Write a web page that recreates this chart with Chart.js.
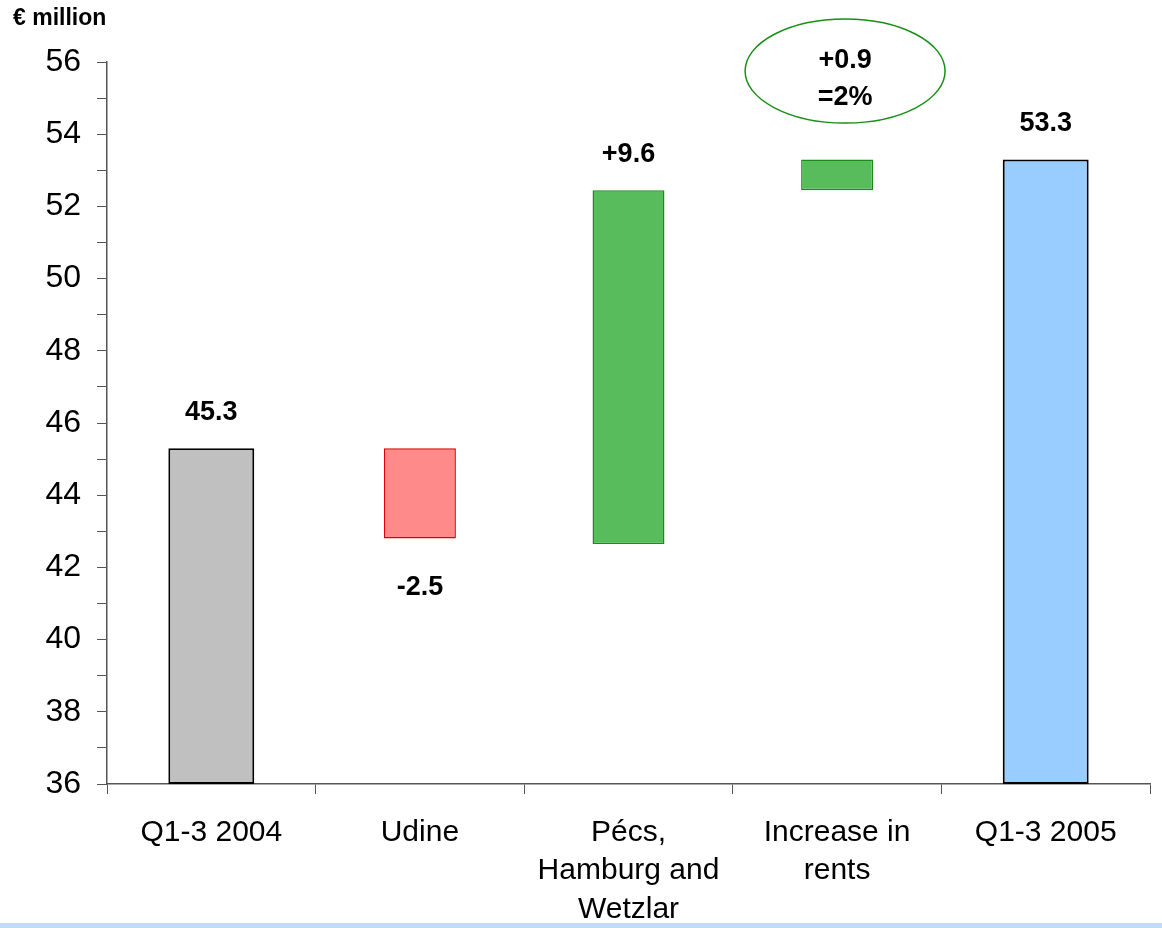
<!DOCTYPE html>
<html>

<head>
	<title>Rental income bridge</title>
	<style>
		body {
			margin: 0;
			background: #fff;
			font-family: "Liberation Sans", Arial, sans-serif;
		}

		#wrap {
			position: relative;
			width: 1162px;
			height: 928px;
		}

		#unit {
			position: absolute;
			left: 13px;
			top: 4px;
			font-size: 23px;
			font-weight: bold;
		}

		#strip {
			position: absolute;
			left: 0;
			top: 923px;
			width: 1162px;
			height: 5px;
			background: #c2dcf8;
		}
	</style>
</head>

<body>
	<div id="wrap">
		<canvas id="bridge" width="1162" height="928"></canvas>
		<div id="unit">€ million</div>
		<div id="strip"></div>
	</div>

	<script src="https://cdn.jsdelivr.net/npm/chart.js@4/dist/chart.umd.min.js"></script>
	<script>
		// categories (multi-line labels)
		const categories = [
			'Q1-3 2004',
			'Udine',
			['Pécs,', 'Hamburg and', 'Wetzlar'],
			['Increase in', 'rents'],
			'Q1-3 2005'
		];

		// total bars: [from, to]
		const totals = [[36, 45.3], null, null, null, [36, 53.3]];
		// change bars: [from, to]
		const changes = [null, [42.8, 45.3], [42.65, 52.45], [52.45, 53.3], null];

		const valueLabels = ['45.3', '-2.5', '+9.6', '+0.9', '53.3'];
		const noteText = ['+0.9', '=2%'];

		const yTicks = { min: 36, max: 56, step: 1, labelEvery: 2 };

		const totalFill = ['#c0c0c0', null, null, null, '#99ccff'];
		const changeFill = [null, '#ff8a8a', '#59bc5c', '#59bc5c', null];
		const changeLine = [null, '#e00000', '#178f17', '#178f17', null];

		const FONT = '"Liberation Sans", Arial, sans-serif';

		const labelPlugin = {
			id: 'valueLabels',
			afterDatasetsDraw(chart) {
				const c = chart.ctx;
				const x = chart.scales.x;
				const y = chart.scales.y;
				c.save();
				c.fillStyle = '#000';
				c.font = 'bold 27px ' + FONT;
				c.textAlign = 'center';
				c.textBaseline = 'middle';
				for (let i = 0; i < categories.length; i++) {
					const bar = totals[i] || changes[i];
					const cx = x.getPixelForValue(i);
					if (i === 3) {
						// ellipse note above the small bar
						const ex = cx + 8;
						const ey = y.getPixelForValue(55.75);
						c.beginPath();
						c.ellipse(ex, ey, 100, 52, 0, 0, Math.PI * 2);
						c.strokeStyle = '#178f17';
						c.lineWidth = 1.5;
						c.stroke();
						c.fillText(noteText[0], ex, ey - 10);
						c.fillText(noteText[1], ex, ey + 27);
						continue;
					}
					const neg = valueLabels[i].startsWith('-');
					if (neg) {
						c.fillText(valueLabels[i], cx, y.getPixelForValue(bar[0]) + 49);
					} else {
						c.fillText(valueLabels[i], cx, y.getPixelForValue(bar[1]) - 36);
					}
				}
				c.restore();
			}
		};

		const ctx = document.getElementById('bridge').getContext('2d');
		const chart = new Chart(ctx, {
			type: 'bar',
			data: {
				labels: categories,
				datasets: [
					{
						data: totals,
						grouped: false,
						backgroundColor: totalFill,
						borderColor: '#000',
						borderWidth: 2,
						borderSkipped: false,
						barPercentage: 0.412,
						categoryPercentage: 1
					},
					{
						data: changes,
						grouped: false,
						backgroundColor: changeFill,
						borderColor: changeLine,
						borderWidth: 1.5,
						borderSkipped: false,
						barPercentage: 0.345,
						categoryPercentage: 1
					}
				]
			},
			options: {
				responsive: false,
				animation: false,
				layout: { padding: { top: 62, right: 12, left: 0, bottom: 0 } },
				plugins: {
					legend: { display: false },
					tooltip: { enabled: false }
				},
				scales: {
					x: {
						border: { color: '#555', width: 1.5 },
						grid: { drawOnChartArea: false, tickLength: 10, color: '#555', offset: true },
						ticks: {
							color: '#000',
							padding: 20,
							maxRotation: 0,
							autoSkip: false,
							font: { family: FONT, size: 30, lineHeight: 1.27 }
						},
						afterFit(s) { s.height = 144; }
					},
					y: {
						min: yTicks.min,
						max: yTicks.max,
						border: { color: '#555', width: 1.5 },
						grid: { drawOnChartArea: false, tickLength: 10, color: '#555' },
						ticks: {
							stepSize: yTicks.step,
							color: '#000',
							padding: 16,
							autoSkip: false,
							font: { family: FONT, size: 32 },
							callback: v => (v % yTicks.labelEvery === 0 ? v : '')
						},
						afterFit(s) { s.width = 107; }
					}
				}
			},
			plugins: [labelPlugin]
		});
	</script>
</body>

</html>
